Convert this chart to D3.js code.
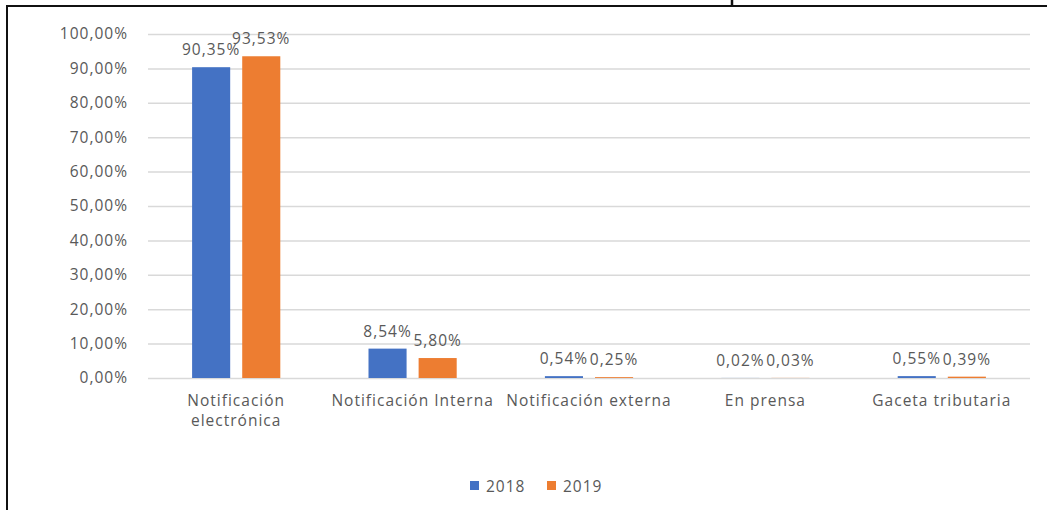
<!DOCTYPE html>
<html>
<head>
<meta charset="utf-8">
<script src="https://cdn.jsdelivr.net/npm/d3@7"></script>
<style>
  html, body { margin: 0; padding: 0; background: #fff; }
  svg { display: block; }
  text { font-family: "Open Sans", sans-serif; fill: #595959; }
</style>
</head>
<body>
<svg id="chart" width="1047" height="510"></svg>
<script>
// Medio de notificación, share of total per year
const categories = [
  ["Notificación", "electrónica"],
  ["Notificación Interna"],
  ["Notificación externa"],
  ["En prensa"],
  ["Gaceta tributaria"]
];
const years = ["2018", "2019"];
const values2018 = [90.35, 8.54, 0.54, 0.02, 0.55];
const values2019 = [93.53, 5.80, 0.25, 0.03, 0.39];
const yTicks = [0, 10, 20, 30, 40, 50, 60, 70, 80, 90, 100];
const colors = ["#4472C4", "#ED7D31"];

const series = [values2018, values2019];
const fmt = v => v.toFixed(2).replace(".", ",") + "%";
const FS = 15.5, LS = 1.0;

const svg = d3.select("#chart");
const W = 1047, H = 510;
const plot = { left: 148, right: 1030, top: 34, bottom: 378 };

// frame lines
svg.append("line").attr("x1", 6).attr("x2", W).attr("y1", 6).attr("y2", 6)
  .attr("stroke", "#111").attr("stroke-width", 2);
svg.append("line").attr("x1", 7).attr("x2", 7).attr("y1", 6).attr("y2", H)
  .attr("stroke", "#111").attr("stroke-width", 2);
svg.append("line").attr("x1", 732).attr("x2", 732).attr("y1", 0).attr("y2", 6)
  .attr("stroke", "#111").attr("stroke-width", 2.5);

const x0 = d3.scaleBand()
  .domain(d3.range(categories.length))
  .range([plot.left, plot.right])
  .paddingInner(0.5)
  .paddingOuter(0.25);

const x1 = d3.scaleBand()
  .domain(years)
  .range([0, x0.bandwidth()])
  .paddingInner(0.24)
  .paddingOuter(0);

const y = d3.scaleLinear().domain([0, 100]).range([plot.bottom, plot.top]);

// gridlines + y labels
const yAxis = d3.axisLeft(y)
  .tickValues(yTicks)
  .tickSize(-(plot.right - plot.left))
  .tickPadding(20)
  .tickFormat(d => d.toFixed(2).replace(".", ",") + "%");

const gy = svg.append("g")
  .attr("transform", `translate(${plot.left},0)`)
  .call(yAxis);
gy.select(".domain").remove();
gy.selectAll(".tick line").attr("stroke", "#d9d9d9").attr("stroke-width", 1.5);
gy.selectAll(".tick text")
  .attr("font-size", FS).attr("letter-spacing", LS)
  .style("font-family", "'Open Sans', sans-serif").attr("fill", "#595959");

// bars
const groups = svg.append("g").selectAll("g")
  .data(categories.map((c, i) => i))
  .join("g")
  .attr("transform", i => `translate(${x0(i)},0)`);

groups.selectAll("rect")
  .data(i => years.map((yr, s) => ({ yr, v: series[s][i], s })))
  .join("rect")
  .attr("x", d => x1(d.yr))
  .attr("width", x1.bandwidth())
  .attr("y", d => y(d.v))
  .attr("height", d => y(0) - y(d.v))
  .attr("fill", d => colors[d.s]);

groups.selectAll("text.val")
  .data(i => years.map((yr, s) => ({ yr, v: series[s][i], s })))
  .join("text")
  .attr("class", "val")
  .attr("x", d => x1(d.yr) + x1.bandwidth() / 2)
  .attr("y", d => y(d.v) - 12)
  .attr("text-anchor", "middle")
  .attr("font-size", FS).attr("letter-spacing", LS)
  .text(d => fmt(d.v));

// category labels
const cat = svg.append("g").selectAll("text")
  .data(categories)
  .join("text")
  .attr("x", (d, i) => x0(i) + x0.bandwidth() / 2)
  .attr("y", 406)
  .attr("text-anchor", "middle")
  .attr("font-size", FS).attr("letter-spacing", LS);
cat.selectAll("tspan")
  .data(d => d)
  .join("tspan")
  .attr("x", function () { return d3.select(this.parentNode).attr("x"); })
  .attr("dy", (d, j) => j === 0 ? 0 : 20)
  .text(d => d);

// legend
const legend = svg.append("g");
const legendX = [470, 547];
years.forEach((yr, s) => {
  legend.append("rect")
    .attr("x", legendX[s]).attr("y", 481)
    .attr("width", 9).attr("height", 9)
    .attr("fill", colors[s]);
  legend.append("text")
    .attr("x", legendX[s] + 16).attr("y", 491.5)
    .attr("font-size", FS).attr("letter-spacing", LS)
    .text(yr);
});
</script>
</body>
</html>
